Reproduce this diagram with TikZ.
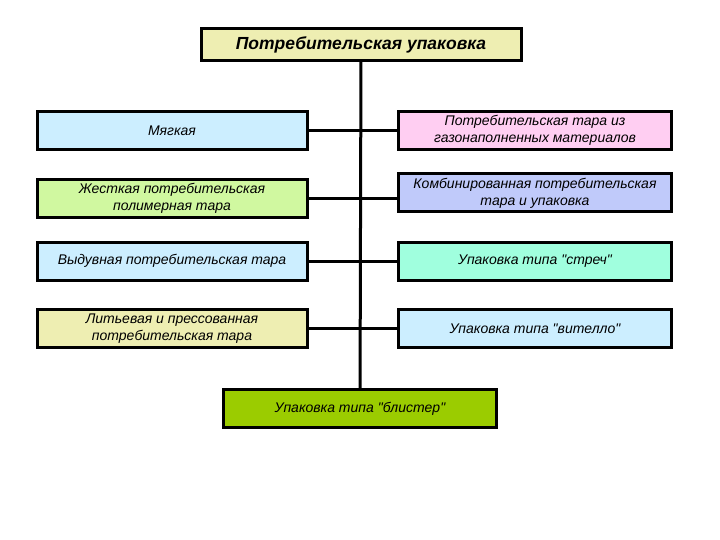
\documentclass[tikz,border=0pt]{standalone}
\usepackage{fontspec}
\setmainfont{Liberation Sans}
\begin{document}
\begin{tikzpicture}[x=1pt,y=-1pt]

\definecolor{topyel}{RGB}{238,238,178}
\definecolor{skyblu}{RGB}{204,238,255}
\definecolor{lgreen}{RGB}{208,248,160}
\definecolor{lpink}{RGB}{255,206,242}
\definecolor{lavend}{RGB}{192,202,250}
\definecolor{aquam}{RGB}{160,255,222}
\definecolor{olivgr}{RGB}{155,204,0}

\tikzset{
	box/.style={draw,line width=3pt,minimum width=270,minimum height=38,
	align=center,font=\fontsize{14}{17}\selectfont\itshape,inner sep=1pt},
	link/.style={line width=3pt},
}
\useasboundingbox (0,0) rectangle (720,540);

%TOP
\node[box,fill=topyel,minimum width=320,minimum height=32,
	font=\fontsize{17.5}{20}\selectfont\bfseries\itshape] (upak) at (361,44.5) {Потребительская упаковка};

%LEFT
\node[box,fill=skyblu] (myag) at (172,130.5) {Мягкая};
\node[box,fill=lgreen] (zhest) at (172,198.5) {Жесткая потребительская\\полимерная тара};
\node[box,fill=skyblu] (vyduv) at (172,261) {Выдувная потребительская тара};
\node[box,fill=topyel] (litev) at (172,328.5) {Литьевая и прессованная\\потребительская тара};

%RIGHT
\node[box,fill=lpink,minimum width=273] (gazon) at (535,130.5) {Потребительская тара из\\газонаполненных материалов};
\node[box,fill=lavend,minimum width=273] (kombi) at (535,193) {Комбинированная потребительская\\тара и упаковка};
\node[box,fill=aquam,minimum width=273] (strech) at (535,261) {Упаковка типа \textquotedbl стреч\textquotedbl};
\node[box,fill=skyblu,minimum width=273] (vitel) at (535,328.5) {Упаковка типа \textquotedbl вителло\textquotedbl};

%BOTTOM
\node[box,fill=olivgr,minimum width=273] (blist) at (360,408.5) {Упаковка типа \textquotedbl блистер\textquotedbl};

\draw[link] (upak) -- (blist);
\draw[link] (myag.east) -- (gazon.west);
\draw[link] (zhest.east) -- (zhest.east -| kombi.west);
\draw[link] (vyduv.east) -- (strech.west);
\draw[link] (litev.east) -- (vitel.west);
\end{tikzpicture}
\end{document}
